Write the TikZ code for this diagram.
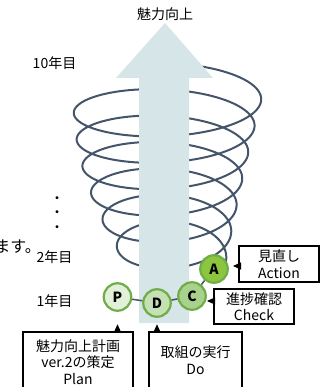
\documentclass[tikz,border=0pt]{standalone}
\usepackage{fontspec}
\setmainfont{Noto Sans CJK JP}
\usetikzlibrary{arrows.meta}
\definecolor{spiralc}{HTML}{44546A}
\definecolor{arrowc}{HTML}{D6E5E8}
\definecolor{ringc}{HTML}{70AD47}
\definecolor{pfill}{HTML}{E2F0D9}
\definecolor{dfill}{HTML}{C5E0B4}
\definecolor{cfill}{HTML}{A9D18E}
\definecolor{afill}{HTML}{8CC63F}
\begin{document}
\begin{tikzpicture}[x=1pt,y=-1pt,
  font=\fontsize{14}{16.5}\selectfont,
  spiral/.style={draw=spiralc, line width=2pt, line join=round},
  conn/.style={draw=spiralc, line width=1.5pt},
  circ/.style={circle, draw=ringc, line width=2.2pt, minimum size=27.5pt, inner sep=0pt, font=\fontsize{14}{14}\selectfont\bfseries},
  box/.style={draw=black, line width=1.2pt, fill=white, align=center, inner sep=0pt},
  ptr/.style={draw=black, line width=1pt, -{Triangle[length=8pt,width=7pt]}}]
\useasboundingbox (0,0) rectangle (327,387);
\clip (0,0) rectangle (327,387);
% spiral
\draw[spiral] plot[domain=-0.05:6.25, samples=600, variable=\u]
  ({171.5-5*(\u-0.75)+0.8*(\u-0.75)*(\u-0.75) + (58.5+10.07*(\u-0.75)-0.633*(\u-0.75)*(\u-0.75))*cos(360*\u)},
   {258-26.4*\u-30*sin(360*\u)});
% big arrow
\fill[arrowc] (139,323) -- (139,78) -- (116,78) -- (165,23) -- (213,78) -- (189,78) -- (189,323) -- cycle;
% PDCA circles
\node[circ, fill=pfill] (P) at (117.5,297) {P};
\node[circ, fill=dfill] (D) at (157,303) {D};
\node[circ, fill=cfill] (C) at (192,296) {C};
\node[circ, fill=afill] (A) at (214,269) {A};
\draw[conn] (P) -- (D);
\draw[conn] (D) -- (C);
\draw[conn] (C) -- (A);
% labels
\node (title) at (165,14) {魅力向上};
\node (t10) at (54.5,63.5) {10年目};
\node (t2) at (54.5,257) {2年目};
\node (t1) at (54.5,301) {1年目};
\node[align=center, font=\fontsize{14}{14.5}\selectfont] (dots) at (57,214.5) {・\\・\\・};
\node[anchor=east, inner sep=0pt, font=\fontsize{16}{16}\selectfont] (masu) at (41,247) {ます。};
% boxes
\node[box, minimum width=80pt, minimum height=36pt] (act) at (279,264) {見直し\\Action};
\node[box, minimum width=80pt, minimum height=35pt] (chk) at (254,306.5) {進捗確認\\Check};
\node[box, minimum width=110pt, minimum height=60pt] (plan) at (78,362) {魅力向上計画\\ver.2の策定\\Plan};
\node[box, minimum width=93pt, minimum height=56pt] (do) at (195.5,360) {取組の実行\\Do};
% pointers
\coordinate (atip) at (233,266);
\coordinate (ctip) at (207,301);
\draw[ptr] ([yshift=-2pt]act.west) -- (atip);
\draw[ptr] ([yshift=5.5pt]chk.west) -- (ctip);
\draw[ptr, shorten >=12.4pt] (plan.north -| P) -- (P);
\draw[ptr, shorten >=6.4pt] (do.north -| D) -- (D);
\end{tikzpicture}
\end{document}
